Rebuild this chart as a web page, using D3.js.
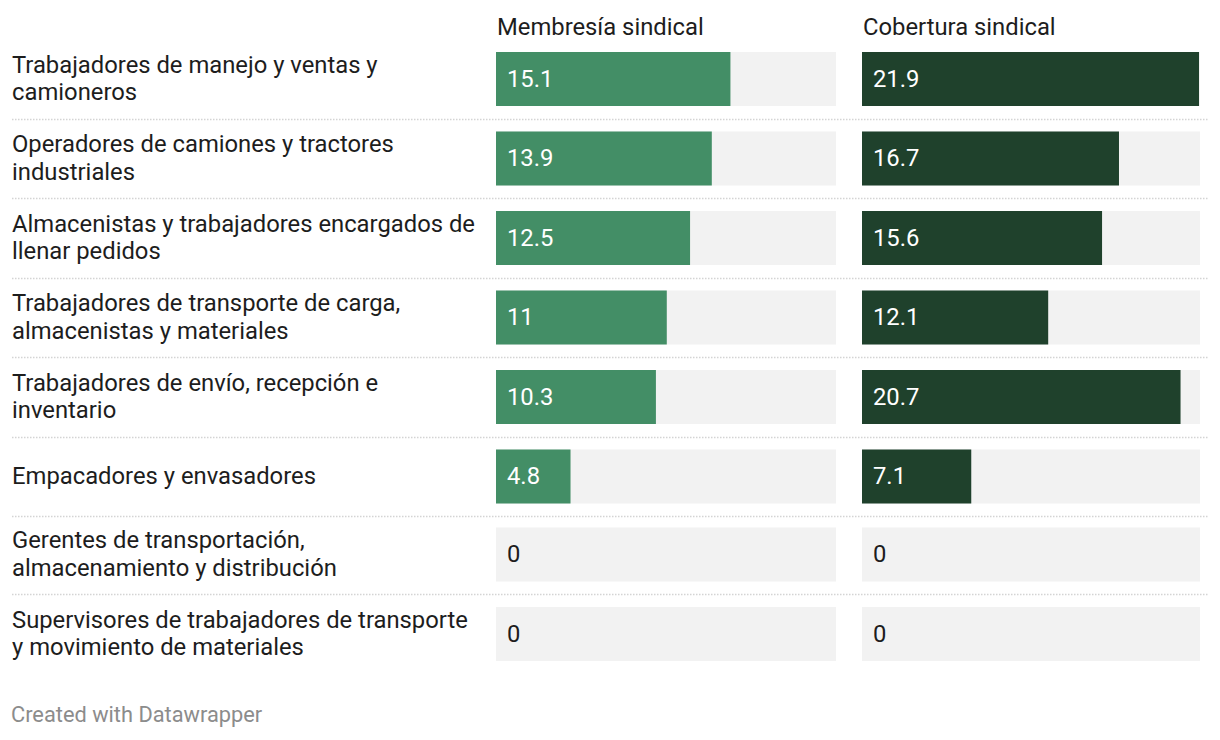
<!DOCTYPE html>
<html>
<head>
<meta charset="utf-8">
<script src="https://cdn.jsdelivr.net/npm/d3@7"></script>
<style>
  html, body { margin: 0; padding: 0; background: #fff; }
  svg { display: block; font-family: Roboto, "Noto Sans", sans-serif; }
</style>
</head>
<body>
<svg id="chart" width="1220" height="740"></svg>
<script>
const categories = [
  "Trabajadores de manejo y ventas y\ncamioneros",
  "Operadores de camiones y tractores\nindustriales",
  "Almacenistas y trabajadores encargados de\nllenar pedidos",
  "Trabajadores de transporte de carga,\nalmacenistas y materiales",
  "Trabajadores de envío, recepción e\ninventario",
  "Empacadores y envasadores",
  "Gerentes de transportación,\nalmacenamiento y distribución",
  "Supervisores de trabajadores de transporte\ny movimiento de materiales"
];
const seriesNames = ["Membresía sindical", "Cobertura sindical"];
const membresia = [15.1, 13.9, 12.5, 11, 10.3, 4.8, 0, 0];
const cobertura = [21.9, 16.7, 15.6, 12.1, 20.7, 7.1, 0, 0];
const footer = "Created with Datawrapper";

const colors = ["#438e66", "#1f412c"];
const series = [membresia, cobertura];

const svg = d3.select("#chart");
const maxVal = d3.max([...membresia, ...cobertura]);

const cols = [
  d3.scaleLinear().domain([0, maxVal]).range([496, 836]),
  d3.scaleLinear().domain([0, maxVal]).range([862, 1199])
];
const bgWidths = [340, 338];

const barH = 54;
const tops = [];
let yCur = 52;
categories.forEach((c, i) => {
  tops.push(yCur);
  const lines = c.split("\n").length;
  yCur += lines > 1 ? 79.5 : 78;
});
const y = d3.scaleOrdinal().domain(d3.range(categories.length)).range(tops);

const FS = 23.8;

seriesNames.forEach((s, j) => {
  svg.append("text")
    .attr("x", cols[j].range()[0] + 1)
    .attr("y", 34.5)
    .attr("font-size", FS)
    .attr("fill", "#1d1d1d")
    .text(s);
});

for (let i = 0; i < categories.length - 1; i++) {
  const sy = Math.round((y(i) + barH + y(i + 1)) / 2) + 0.5;
  svg.append("line")
    .attr("x1", 12).attr("x2", 1208)
    .attr("y1", sy).attr("y2", sy)
    .attr("stroke", "#d4d4d4")
    .attr("stroke-width", 1.5)
    .attr("stroke-dasharray", "1.5,1.5");
}

categories.forEach((c, i) => {
  const lines = c.split("\n");
  const center = y(i) + barH / 2;
  const lh = 27.5;
  const firstBase = center + 7.7 - (lines.length - 1) * lh / 2;
  const t = svg.append("text")
    .attr("x", 12)
    .attr("font-size", FS)
    .attr("fill", "#1d1d1d");
  lines.forEach((l, k) => {
    t.append("tspan").attr("x", 12).attr("y", firstBase + k * lh).text(l);
  });
});

series.forEach((vals, j) => {
  const g = svg.append("g");
  const x = cols[j];
  g.selectAll("rect.bg").data(vals).join("rect")
    .attr("class", "bg")
    .attr("x", x(0))
    .attr("y", (d, i) => y(i))
    .attr("width", bgWidths[j])
    .attr("height", barH)
    .attr("fill", "#f2f2f2");
  g.selectAll("rect.bar").data(vals).join("rect")
    .attr("class", "bar")
    .attr("x", x(0))
    .attr("y", (d, i) => y(i))
    .attr("width", d => x(d) - x(0))
    .attr("height", barH)
    .attr("fill", colors[j]);
  g.selectAll("text.val").data(vals).join("text")
    .attr("class", "val")
    .attr("x", x(0) + 11)
    .attr("y", (d, i) => y(i) + barH / 2 + 7.8)
    .attr("font-size", FS)
    .attr("fill", d => d > 0 ? "#ffffff" : "#1d1d1d")
    .text(d => d3.format("")(d));
});

svg.append("text")
  .attr("x", 11)
  .attr("y", 722)
  .attr("font-size", 21.8)
  .attr("fill", "#8c8c8c")
  .text(footer);
</script>
</body>
</html>
